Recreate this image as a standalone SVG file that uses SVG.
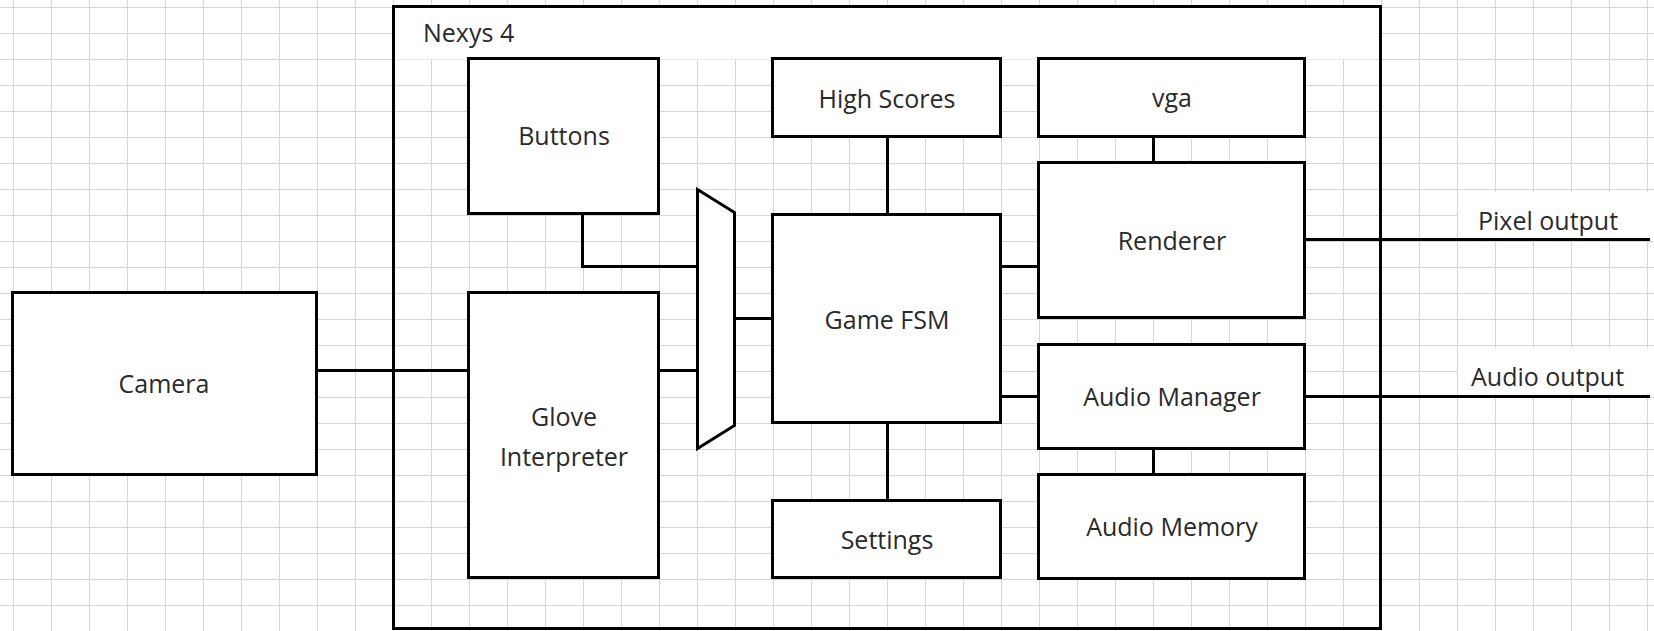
<svg xmlns="http://www.w3.org/2000/svg" width="1654" height="631" viewBox="0 0 1654 631">
<style>
.grid{stroke:#d6d6d6;stroke-width:1;fill:none}
.box{fill:#fff;stroke:#000;stroke-width:3}
.frame{fill:none;stroke:#000;stroke-width:3}
.wire{fill:none;stroke:#000;stroke-width:3}
.lbl{font-family:"Open Sans","Liberation Sans",sans-serif;font-size:25px;fill:#2a2a2a;text-anchor:middle}
.lbs{font-family:"Open Sans","Liberation Sans",sans-serif;font-size:25px;fill:#2a2a2a}
</style>
<rect x="0" y="0" width="1654" height="631" fill="#fff"/>
<path class="grid" d="M0 7.5H1654M0 33.5H1654M0 59.5H1654M0 85.5H1654M0 111.5H1654M0 137.5H1654M0 163.5H1654M0 189.5H1654M0 215.5H1654M0 241.5H1654M0 267.5H1654M0 293.5H1654M0 319.5H1654M0 345.5H1654M0 371.5H1654M0 397.5H1654M0 423.5H1654M0 449.5H1654M0 475.5H1654M0 501.5H1654M0 527.5H1654M0 553.5H1654M0 579.5H1654M0 605.5H1654
M13.5 0V631M51.5 0V631M89.5 0V631M127.5 0V631M165.5 0V631M203.5 0V631M241.5 0V631M279.5 0V631M317.5 0V631M355.5 0V631M393.5 0V631M431.5 0V631M469.5 0V631M507.5 0V631M545.5 0V631M583.5 0V631M621.5 0V631M659.5 0V631M697.5 0V631M735.5 0V631M773.5 0V631M811.5 0V631M849.5 0V631M887.5 0V631M925.5 0V631M963.5 0V631M1001.5 0V631M1039.5 0V631M1077.5 0V631M1115.5 0V631M1153.5 0V631M1191.5 0V631M1229.5 0V631M1267.5 0V631M1305.5 0V631M1343.5 0V631M1381.5 0V631M1419.5 0V631M1457.5 0V631M1495.5 0V631M1533.5 0V631M1571.5 0V631M1609.5 0V631M1647.5 0V631"/>
<g id="nexys4">
<rect x="393.5" y="7.5" width="987" height="52" fill="#fff"/>
<rect class="frame" x="393.5" y="6.5" width="987" height="622"/>
<text class="lbs" x="423" y="42">Nexys 4</text>
</g>
<g id="pixel-output-label">
<rect x="1458" y="192" width="196" height="46" fill="#fff"/>
<text class="lbs" x="1478" y="230">Pixel output</text>
</g>
<g id="audio-output-label">
<rect x="1458" y="348" width="196" height="46" fill="#fff"/>
<text class="lbs" x="1471" y="386">Audio output</text>
</g>
<g id="connectors">
<path class="wire" d="M316 370.5H469"/>
<path class="wire" d="M582.5 214V266.5H697"/>
<path class="wire" d="M658 370.5H697"/>
<path class="wire" d="M734 318.5H773"/>
<path class="wire" d="M887.5 136V215"/>
<path class="wire" d="M887.5 422V501"/>
<path class="wire" d="M1000 266.5H1039"/>
<path class="wire" d="M1000 396.5H1039"/>
<path class="wire" d="M1153.5 136V163"/>
<path class="wire" d="M1153.5 448V475"/>
<path class="wire" d="M1304 239.5H1650"/>
<path class="wire" d="M1304 396.5H1650"/>
</g>
<g id="camera">
<rect class="box" x="12.5" y="292.5" width="304" height="182"/>
<text class="lbl" x="164" y="393">Camera</text>
</g>
<g id="buttons">
<rect class="box" x="468.5" y="58.5" width="190" height="155"/>
<text class="lbl" x="564" y="145">Buttons</text>
</g>
<g id="glove-interpreter">
<rect class="box" x="468.5" y="292.5" width="190" height="285"/>
<text class="lbl" x="564" y="426">Glove</text>
<text class="lbl" x="564" y="466">Interpreter</text>
</g>
<g id="mux">
<polygon class="box" points="697.5,189.5 734.5,212.5 734.5,425.5 697.5,448.5"/>
</g>
<g id="game-fsm">
<rect class="box" x="772.5" y="214.5" width="228" height="208"/>
<text class="lbl" x="887" y="329">Game FSM</text>
</g>
<g id="high-scores">
<rect class="box" x="772.5" y="58.5" width="228" height="78"/>
<text class="lbl" x="887" y="108">High Scores</text>
</g>
<g id="settings">
<rect class="box" x="772.5" y="500.5" width="228" height="77"/>
<text class="lbl" x="887" y="549">Settings</text>
</g>
<g id="vga">
<rect class="box" x="1038.5" y="58.5" width="266" height="78"/>
<text class="lbl" x="1172" y="107">vga</text>
</g>
<g id="renderer">
<rect class="box" x="1038.5" y="162.5" width="266" height="155"/>
<text class="lbl" x="1172" y="250">Renderer</text>
</g>
<g id="audio-manager">
<rect class="box" x="1038.5" y="344.5" width="266" height="104"/>
<text class="lbl" x="1172" y="406">Audio Manager</text>
</g>
<g id="audio-memory">
<rect class="box" x="1038.5" y="474.5" width="266" height="104"/>
<text class="lbl" x="1172" y="536">Audio Memory</text>
</g>
</svg>
